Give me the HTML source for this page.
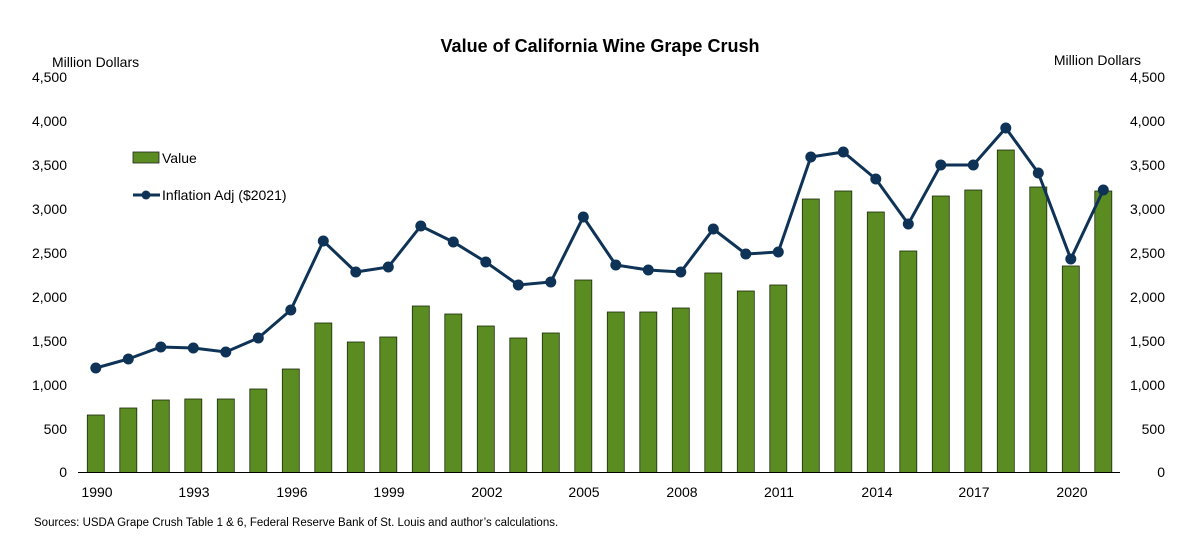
<!DOCTYPE html>
<html><head><meta charset="utf-8"><style>
body{margin:0;background:#fff;}
svg text{font-family:"Liberation Sans",Arial,sans-serif;fill:#000;}
</style></head><body>
<svg id="s" width="1200" height="550" viewBox="0 0 1200 550" xmlns="http://www.w3.org/2000/svg">
<rect width="1200" height="550" fill="#fff"/>
<text x="600" y="52" font-size="18" font-weight="bold" text-anchor="middle">Value of California Wine Grape Crush</text>
<text x="52" y="67" font-size="14">Million Dollars</text>
<text x="1141" y="65" font-size="14" text-anchor="end">Million Dollars</text>
<g font-size="14" text-anchor="end">
<text x="67" y="82">4,500</text><text x="67" y="126">4,000</text><text x="67" y="170">3,500</text><text x="67" y="214">3,000</text><text x="67" y="258">2,500</text><text x="67" y="302">2,000</text><text x="67" y="346">1,500</text><text x="67" y="390">1,000</text><text x="67" y="434">500</text><text x="67" y="477">0</text>
<text x="1165" y="82">4,500</text><text x="1165" y="126">4,000</text><text x="1165" y="170">3,500</text><text x="1165" y="214">3,000</text><text x="1165" y="258">2,500</text><text x="1165" y="302">2,000</text><text x="1165" y="346">1,500</text><text x="1165" y="390">1,000</text><text x="1165" y="434">500</text><text x="1165" y="477">0</text>
</g>
<g font-size="14" text-anchor="middle">
<text x="97" y="497">1990</text><text x="194" y="497">1993</text><text x="292" y="497">1996</text><text x="389" y="497">1999</text><text x="487" y="497">2002</text><text x="584" y="497">2005</text><text x="682" y="497">2008</text><text x="779" y="497">2011</text><text x="877" y="497">2014</text><text x="974" y="497">2017</text><text x="1072" y="497">2020</text>
</g>
<text x="34" y="526" font-size="11.5">Sources: USDA Grape Crush Table  1 &amp; 6, Federal Reserve Bank of St. Louis and author’s calculations.</text>
<g id="bars"></g>
<line x1="78" y1="472.5" x2="1120" y2="472.5" stroke="#000" stroke-width="1"/>
<polyline id="ln" fill="none" stroke="#0e3356" stroke-width="3"/>
<g id="dots"></g>
<rect x="133" y="152" width="26" height="11" fill="#5b8c22" stroke="#222" stroke-width="0.8"/>
<text x="162" y="163" font-size="14">Value</text>
<line x1="133" y1="195" x2="160" y2="195" stroke="#0e3356" stroke-width="3"/>
<circle cx="146" cy="195" r="4.5" fill="#0e3356"/>
<text x="162" y="200" font-size="14">Inflation Adj ($2021)</text>
</svg>
<script>
var tops=[415,408,400,399,399,389,369,323,342,337,306,314,326,338,333,280,312,312,308,273,291,285,199,191,212,251,196,190,150,187,266,191];
var ly=[368,359,347,348,352,338,310,241,272,267,226,242,262,285,282,217,265,270,272,229,254,252,157,152,179,224,165,165,128,173,259,190];
var ns="http://www.w3.org/2000/svg",b=document.getElementById('bars'),d=document.getElementById('dots'),pts=[];
for(var i=0;i<32;i++){var cx=95.8+i*32.5;
var r=document.createElementNS(ns,'rect');r.setAttribute('x',cx-8.5);r.setAttribute('y',tops[i]);r.setAttribute('width',17);r.setAttribute('height',472.5-tops[i]);r.setAttribute('fill','#5b8c22');r.setAttribute('stroke','#1a2a0a');r.setAttribute('stroke-width','0.8');b.appendChild(r);
pts.push(cx+','+ly[i]);
var c=document.createElementNS(ns,'circle');c.setAttribute('cx',cx);c.setAttribute('cy',ly[i]);c.setAttribute('r',5.5);c.setAttribute('fill','#0e3356');d.appendChild(c);}
document.getElementById('ln').setAttribute('points',pts.join(' '));
</script>
</body></html>
